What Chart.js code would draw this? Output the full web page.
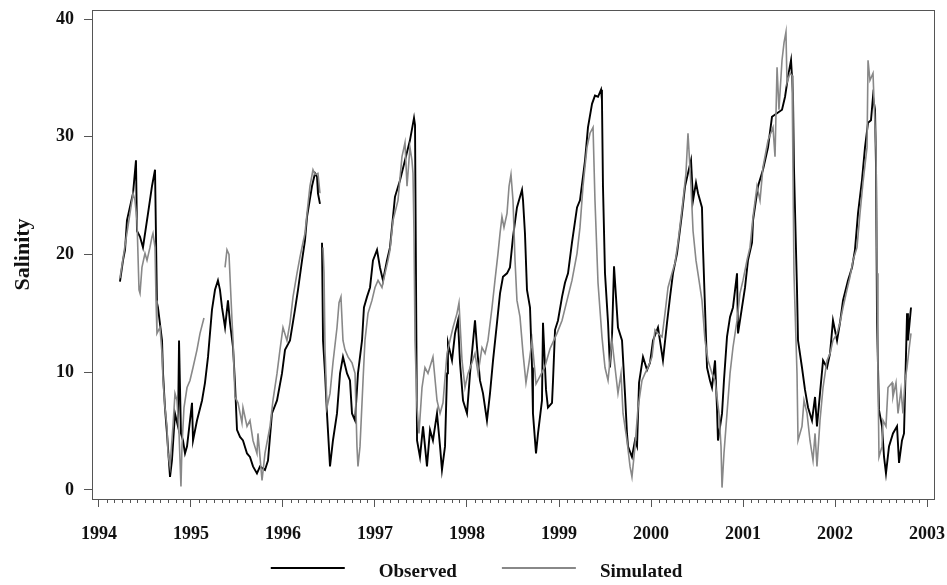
<!DOCTYPE html>
<html>
<head>
<meta charset="utf-8">
<script src="https://cdn.jsdelivr.net/npm/chart.js@4.4.1/dist/chart.umd.min.js"></script>
<style>
  html, body { margin: 0; padding: 0; background: #fff; }
  #wrap { width: 947px; height: 585px; }
</style>
</head>
<body>
<div id="wrap"><canvas id="chart"></canvas></div>
<script>
// Salinity, observed vs simulated (decimal years)
// null = gap in the record
const obsYears = [
  1994.228, 1994.261, 1994.283, 1994.304, 1994.370, 1994.402, 1994.413, 1994.446, 1994.478, 1994.533,
  1994.576, 1994.609, 1994.630, 1994.641, 1994.685, 1994.696, 1994.717, 1994.739, 1994.772, 1994.793,
  1994.826, 1994.859, 1994.870, 1994.891, 1994.913, 1994.935, 1994.957, 1995.011, 1995.022, 1995.065,
  1995.120, 1995.152, 1995.185, 1995.228, 1995.261, 1995.293, 1995.315, 1995.337, 1995.370, 1995.402,
  1995.424, 1995.457, 1995.478, 1995.500, 1995.533, 1995.565, 1995.609, 1995.641, 1995.674, 1995.717,
  1995.750, 1995.804, 1995.837, 1995.880, 1995.935, 1995.989, 1996.022, 1996.076, 1996.130, 1996.163,
  1996.207, 1996.239, 1996.261, 1996.315, 1996.348, 1996.370, 1996.380, 1996.402, 1996.412, 1996.424,
  1996.435, 1996.457, 1996.478, 1996.511, 1996.543, 1996.587, 1996.620, 1996.652, 1996.696, 1996.728,
  1996.750, 1996.783, 1996.815, 1996.859, 1996.880, 1996.913, 1996.946, 1996.978, 1997.022, 1997.054,
  1997.087, 1997.130, 1997.163, 1997.217, 1997.272, 1997.326, 1997.380, 1997.424, 1997.435, 1997.457,
  1997.489, 1997.522, 1997.565, 1997.598, 1997.630, 1997.674, 1997.707, 1997.728, 1997.761, 1997.783,
  1997.793, 1997.837, 1997.870, 1997.902, 1997.924, 1997.957, 1998.000, 1998.033, 1998.087, 1998.109,
  1998.141, 1998.174, 1998.217, 1998.250, 1998.283, 1998.326, 1998.359, 1998.391, 1998.435, 1998.467,
  1998.500, 1998.543, 1998.598, 1998.609, 1998.630, 1998.652, 1998.685, 1998.707, 1998.717, 1998.750,
  1998.772, 1998.815, 1998.826, 1998.859, 1998.880, 1998.924, 1998.935, 1998.957, 1998.989, 1999.033,
  1999.065, 1999.098, 1999.141, 1999.196, 1999.228, 1999.283, 1999.315, 1999.359, 1999.391, 1999.424,
  1999.457, 1999.467, 1999.478, 1999.500, 1999.533, 1999.554, 1999.576, 1999.598, 1999.641, 1999.685,
  1999.717, 1999.739, 1999.750, 1999.793, 1999.826, 1999.848, 1999.870, 1999.913, 1999.957, 1999.989,
  2000.022, 2000.076, 2000.130, 2000.174, 2000.207, 2000.239, 2000.283, 2000.337, 2000.370, 2000.402,
  2000.435, 2000.457, 2000.489, 2000.511, 2000.554, 2000.565, 2000.587, 2000.609, 2000.641, 2000.663,
  2000.696, 2000.717, 2000.728, 2000.772, 2000.793, 2000.826, 2000.859, 2000.891, 2000.935, 2000.946,
  2000.989, 2001.022, 2001.054, 2001.098, 2001.109, 2001.163, 2001.217, 2001.272, 2001.315, 2001.370,
  2001.424, 2001.457, 2001.489, 2001.522, 2001.543, 2001.554, 2001.576, 2001.587, 2001.598, 2001.641,
  2001.674, 2001.707, 2001.750, 2001.783, 2001.804, 2001.837, 2001.870, 2001.913, 2001.946, 2001.978,
  2002.022, 2002.054, 2002.087, 2002.141, 2002.185, 2002.217, 2002.250, 2002.293, 2002.326, 2002.359,
  2002.391, 2002.413, 2002.435, 2002.446, 2002.457, 2002.478, 2002.511, 2002.533, 2002.554, 2002.587,
  2002.630, 2002.674, 2002.696, 2002.728, 2002.750, 2002.783, 2002.793, 2002.826
];
const obsSalinity = [
  17.7, 19.5, 20.4, 22.9, 25.2, 28.0, 22.0, 21.5, 20.6, 23.5,
  25.8, 27.2, 15.9, 15.5, 12.7, 9.9, 7.0, 4.8, 1.1, 2.5,
  6.5, 5.4, 12.7, 4.8, 4.2, 3.1, 3.7, 7.4, 4.2, 5.9,
  7.6, 9.1, 11.3, 15.3, 17.0, 17.8, 17.0, 15.5, 13.8, 16.1,
  14.2, 12.1, 9.1, 5.1, 4.5, 4.2, 3.1, 2.8, 2.0, 1.4,
  2.0, 1.7, 2.5, 6.5, 7.6, 9.9, 11.9, 12.7, 15.3, 17.0,
  19.5, 21.2, 23.2, 25.8, 26.9, 26.6, 25.2, 24.3, null, 21.0,
  12.7, 9.9, 6.5, 2.0, 4.2, 6.5, 9.9, 11.3, 9.9, 9.3,
  6.5, 5.9, 9.9, 12.7, 15.5, 16.4, 17.2, 19.5, 20.4, 18.9,
  17.8, 19.5, 20.6, 24.9, 26.3, 28.0, 29.7, 31.6, 31.0, 4.2,
  2.8, 5.4, 2.0, 5.1, 4.2, 6.5, 3.7, 1.7, 3.7, 9.9,
  12.5, 11.0, 13.3, 14.4, 10.8, 7.6, 6.5, 9.9, 14.4, 12.1,
  9.3, 8.2, 5.9, 8.2, 11.0, 14.2, 16.7, 18.1, 18.4, 18.9,
  21.5, 24.0, 25.5, 24.6, 21.8, 17.0, 15.5, 10.4, 6.5, 3.1,
  4.8, 7.6, 14.2, 8.5, 7.0, 7.4, 9.3, 13.6, 14.4, 16.4,
  17.6, 18.4, 21.0, 24.0, 24.6, 28.0, 30.8, 32.8, 33.5, 33.4,
  34.0, 33.1, 25.8, 18.4, 14.2, 10.4, 13.0, 19.0, 13.8, 12.7,
  8.2, 4.8, 3.7, 2.8, 4.2, 3.7, 9.1, 11.3, 10.2, 10.8,
  12.7, 13.8, 11.0, 14.2, 16.4, 18.4, 20.1, 23.5, 25.8, 26.9,
  28.0, 24.6, 26.1, 25.2, 24.0, 20.6, 15.5, 10.4, 9.3, 8.7,
  11.0, 7.0, 4.2, 6.5, 9.3, 13.0, 14.7, 15.5, 18.4, 13.3,
  15.5, 17.2, 19.5, 21.0, 22.9, 25.8, 27.2, 29.1, 31.7, 32.0,
  32.3, 33.4, 35.1, 36.5, 33.7, 27.4, 20.4, 17.0, 12.7, 10.4,
  8.5, 7.0, 5.9, 7.9, 5.4, 8.2, 11.0, 10.4, 11.6, 14.4,
  12.7, 14.2, 16.1, 17.8, 18.9, 20.4, 23.5, 26.3, 29.1, 31.2,
  31.4, 33.4, 32.3, 27.4, 14.2, 6.8, 5.4, 2.8, 1.4, 3.7,
  4.8, 5.4, 2.3, 4.2, 4.8, 15.0, 12.7, 15.5
];

const simYears = [
  1994.228, 1994.250, 1994.337, 1994.370, 1994.391, 1994.413, 1994.435, 1994.446, 1994.467, 1994.500,
  1994.522, 1994.554, 1994.576, 1994.587, 1994.609, 1994.620, 1994.630, 1994.663, 1994.685, 1994.696,
  1994.717, 1994.739, 1994.750, 1994.772, 1994.804, 1994.826, 1994.848, 1994.870, 1994.891, 1994.902,
  1994.924, 1994.957, 1994.989, 1995.022, 1995.065, 1995.098, 1995.141, 1995.250, 1995.370, 1995.391,
  1995.413, 1995.446, 1995.457, 1995.478, 1995.511, 1995.554, 1995.565, 1995.609, 1995.641, 1995.674,
  1995.717, 1995.728, 1995.772, 1995.804, 1995.859, 1995.891, 1995.935, 1995.967, 1996.000, 1996.043,
  1996.076, 1996.109, 1996.152, 1996.185, 1996.217, 1996.239, 1996.261, 1996.293, 1996.326, 1996.348,
  1996.380, 1996.402, 1996.412, 1996.435, 1996.446, 1996.457, 1996.478, 1996.511, 1996.543, 1996.587,
  1996.609, 1996.630, 1996.652, 1996.674, 1996.707, 1996.750, 1996.783, 1996.804, 1996.815, 1996.837,
  1996.870, 1996.891, 1996.924, 1996.967, 1997.000, 1997.033, 1997.076, 1997.109, 1997.141, 1997.163,
  1997.196, 1997.250, 1997.293, 1997.326, 1997.348, 1997.380, 1997.402, 1997.413, 1997.424, 1997.435,
  1997.457, 1997.478, 1997.511, 1997.543, 1997.576, 1997.630, 1997.674, 1997.707, 1997.739, 1997.783,
  1997.815, 1997.848, 1997.891, 1997.913, 1997.946, 1997.978, 1998.011, 1998.054, 1998.087, 1998.120,
  1998.163, 1998.196, 1998.228, 1998.272, 1998.304, 1998.337, 1998.359, 1998.380, 1998.402, 1998.435,
  1998.457, 1998.478, 1998.500, 1998.522, 1998.543, 1998.576, 1998.609, 1998.641, 1998.674, 1998.707,
  1998.750, 1998.848, 1998.902, 1998.978, 1999.033, 1999.087, 1999.141, 1999.196, 1999.228, 1999.261,
  1999.304, 1999.337, 1999.370, 1999.391, 1999.424, 1999.467, 1999.500, 1999.533, 1999.576, 1999.609,
  1999.641, 1999.674, 1999.696, 1999.739, 1999.772, 1999.793, 1999.826, 1999.859, 1999.902, 1999.935,
  1999.967, 2000.011, 2000.043, 2000.076, 2000.120, 2000.152, 2000.185, 2000.228, 2000.261, 2000.293,
  2000.348, 2000.380, 2000.402, 2000.435, 2000.457, 2000.489, 2000.522, 2000.554, 2000.587, 2000.620,
  2000.663, 2000.696, 2000.717, 2000.739, 2000.761, 2000.772, 2000.793, 2000.826, 2000.859, 2000.891,
  2000.935, 2000.967, 2001.000, 2001.043, 2001.076, 2001.109, 2001.152, 2001.185, 2001.217, 2001.272,
  2001.326, 2001.348, 2001.370, 2001.391, 2001.424, 2001.446, 2001.467, 2001.478, 2001.511, 2001.533,
  2001.543, 2001.554, 2001.565, 2001.587, 2001.598, 2001.641, 2001.663, 2001.696, 2001.728, 2001.761,
  2001.783, 2001.804, 2001.837, 2001.870, 2001.913, 2001.946, 2001.978, 2002.022, 2002.054, 2002.087,
  2002.130, 2002.163, 2002.196, 2002.239, 2002.272, 2002.304, 2002.348, 2002.359, 2002.380, 2002.413,
  2002.424, 2002.446, 2002.457, 2002.467, 2002.478, 2002.511, 2002.522, 2002.554, 2002.576, 2002.620,
  2002.630, 2002.663, 2002.685, 2002.717, 2002.739, 2002.761, 2002.783, 2002.804, 2002.826
];
const simSalinity = [
  18.0, 19.1, 23.5, 25.2, 24.6, 22.9, 17.0, 16.7, 18.9, 20.1,
  19.5, 20.6, 21.5, 21.8, 20.6, 16.1, 13.3, 13.8, 11.6, 9.3,
  7.0, 5.4, 3.1, 2.0, 5.4, 8.2, 7.6, 4.8, 0.3, 3.7,
  7.0, 8.7, 9.3, 10.4, 11.9, 13.3, 14.6, null, 18.9, 20.4,
  20.0, 14.4, 12.7, 7.9, 7.4, 5.7, 7.0, 5.4, 5.9, 4.2,
  3.1, 4.8, 0.8, 3.1, 5.4, 7.6, 9.9, 11.9, 13.8, 12.7,
  14.2, 16.4, 18.4, 19.8, 21.0, 21.8, 23.5, 25.8, 27.2, 26.8,
  26.9, 25.2, null, 20.6, 18.4, 11.9, 7.0, 8.2, 10.8, 13.8,
  15.9, 16.4, 12.7, 11.9, 11.3, 10.8, 9.9, 3.7, 2.0, 3.7,
  9.3, 12.7, 15.0, 16.1, 17.2, 17.8, 17.2, 18.4, 19.5, 20.4,
  22.9, 24.6, 28.3, 29.5, 25.8, 29.1, 28.0, 26.9, 21.8, 12.7,
  7.0, 4.8, 8.7, 10.4, 9.9, 11.3, 7.6, 6.5, 7.4, 11.6,
  12.7, 13.8, 15.0, 15.9, 11.0, 8.7, 9.9, 10.8, 11.6, 9.9,
  12.1, 11.6, 12.7, 15.5, 17.8, 20.1, 21.8, 23.2, 22.3, 23.5,
  25.8, 26.8, 24.6, 19.5, 16.1, 14.7, 11.6, 9.1, 10.8, 12.7,
  9.0, 10.5, 12.0, 13.3, 14.4, 16.1, 17.8, 20.1, 22.3, 25.8,
  29.1, 30.3, 30.8, 24.6, 17.6, 13.0, 10.4, 9.3, 12.7, 10.4,
  8.2, 9.9, 6.5, 4.2, 2.0, 1.1, 3.7, 7.0, 9.3, 9.9,
  10.4, 11.3, 13.6, 13.3, 13.0, 15.0, 17.2, 18.4, 19.3, 21.0,
  24.6, 26.9, 30.3, 25.8, 22.0, 19.5, 17.8, 16.1, 12.7, 11.0,
  9.9, 9.3, 7.9, 6.5, 3.7, 0.2, 3.1, 6.5, 9.9, 12.1,
  14.4, 16.7, 17.8, 19.5, 20.6, 23.2, 25.8, 24.6, 27.4, 29.7,
  30.8, 28.3, 35.9, 32.3, 36.5, 38.0, 38.9, 34.6, 35.4, 35.2,
  27.4, 18.4, 15.5, 9.9, 4.2, 5.4, 7.6, 6.5, 4.2, 2.5,
  4.8, 2.0, 5.9, 8.7, 11.0, 11.6, 12.7, 13.3, 14.2, 15.5,
  17.0, 18.1, 19.5, 20.6, 23.5, 26.1, 29.1, 36.5, 34.8, 35.4,
  33.1, 28.9, 18.4, 9.9, 2.8, 3.7, 5.9, 5.4, 8.7, 9.1,
  7.9, 9.1, 6.5, 8.5, 6.5, 9.3, 10.4, 11.9, 13.3
];

const yearTicks = [1994, 1995, 1996, 1997, 1998, 1999, 2000, 2001, 2002, 2003];
const salinityTicks = [0, 10, 20, 30, 40];
const seriesLabels = ['Observed', 'Simulated'];

const AXIS_GREY = '#555555';
const SERIF = '"Liberation Serif", "Times New Roman", serif';

function toPoints(xs, ys) {
    return xs.map((x, i) => ({ x: x, y: ys[i] }));
}

// box round the plot + monthly minor ticks under the x axis
const frameAndMinorTicks = {
    id: 'frameAndMinorTicks',
    afterDraw(chart) {
        const { ctx, chartArea: a, scales } = chart;
        ctx.save();
        ctx.strokeStyle = AXIS_GREY;
        ctx.lineWidth = 1;
        ctx.strokeRect(Math.round(a.left) + 0.5, Math.round(a.top) + 0.5,
            Math.round(a.right - a.left), Math.round(a.bottom - a.top));
        ctx.beginPath();
        for (let y = yearTicks[0]; y < yearTicks[yearTicks.length - 1]; y++) {
            for (let m = 1; m < 12; m++) {
                const px = Math.round(scales.x.getPixelForValue(y + m / 12)) + 0.5;
                ctx.moveTo(px, a.bottom);
                ctx.lineTo(px, a.bottom + 4);
            }
        }
        ctx.stroke();
        ctx.restore();
    }
};

// legend drawn under the axis, centred on the canvas
const bottomLegend = {
    id: 'bottomLegend',
    afterDraw(chart) {
        const { ctx } = chart;
        const lineLen = 74, gapAfterLine = [34, 24], gapBetween = 45;
        const y = 569;
        ctx.save();
        ctx.font = 'bold 19px ' + SERIF;
        ctx.textBaseline = 'middle';
        const widths = chart.data.datasets.map(d => ctx.measureText(d.label).width);
        const total = 2 * lineLen + gapAfterLine[0] + gapAfterLine[1] + gapBetween + widths[0] + widths[1];
        let x = chart.width / 2 - total / 2 + 3;
        chart.data.datasets.forEach((d, i) => {
            ctx.strokeStyle = d.borderColor;
            ctx.lineWidth = 2;
            ctx.beginPath();
            ctx.moveTo(x, y - 1);
            ctx.lineTo(x + lineLen, y - 1);
            ctx.stroke();
            x += lineLen + gapAfterLine[i];
            ctx.fillStyle = '#111';
            ctx.fillText(d.label, x, y + 3);
            x += widths[i] + gapBetween;
        });
        ctx.restore();
    }
};

new Chart(document.getElementById('chart'), {
    type: 'line',
    data: {
        datasets: [
            {
                label: seriesLabels[0],
                data: toPoints(obsYears, obsSalinity),
                borderColor: '#000000',
                borderWidth: 1.9,
                pointRadius: 0,
                tension: 0,
                spanGaps: false,
                order: 1
            },
            {
                label: seriesLabels[1],
                data: toPoints(simYears, simSalinity),
                borderColor: '#888888',
                borderWidth: 1.6,
                pointRadius: 0,
                tension: 0,
                spanGaps: false,
                order: 0
            }
        ]
    },
    options: {
        responsive: true,
        maintainAspectRatio: false,
        animation: false,
        layout: { padding: { top: 10, right: 13, left: 0, bottom: 0 } },
        plugins: {
            legend: { display: false },
            tooltip: { enabled: false }
        },
        scales: {
            x: {
                type: 'linear',
                min: 1993.924,
                max: 2003.076,
                afterBuildTicks: s => { s.ticks = yearTicks.map(v => ({ value: v })); },
                afterFit: s => { s.height = 86; s.paddingLeft = 0; s.paddingRight = 0; },
                border: { display: false },
                grid: { drawOnChartArea: false, color: AXIS_GREY, tickLength: 8 },
                ticks: {
                    autoSkip: false,
                    maxRotation: 0,
                    padding: 17,
                    color: '#111',
                    font: { family: SERIF, size: 18, weight: 'bold' },
                    callback: v => String(v)
                }
            },
            y: {
                min: -0.77,
                max: 40.77,
                afterBuildTicks: s => { s.ticks = salinityTicks.map(v => ({ value: v })); },
                afterFit: s => { s.width = 92; s.paddingTop = 0; s.paddingBottom = 0; },
                border: { display: false },
                grid: { drawOnChartArea: false, color: AXIS_GREY, tickLength: 8 },
                ticks: {
                    padding: 10,
                    color: '#111',
                    font: { family: SERIF, size: 18, weight: 'bold' }
                },
                title: {
                    display: true,
                    text: 'Salinity',
                    color: '#111',
                    padding: { top: 10, bottom: 0 },
                    font: { family: SERIF, size: 22, weight: 'bold' }
                }
            }
        }
    },
    plugins: [frameAndMinorTicks, bottomLegend]
});
</script>
</body>
</html>
